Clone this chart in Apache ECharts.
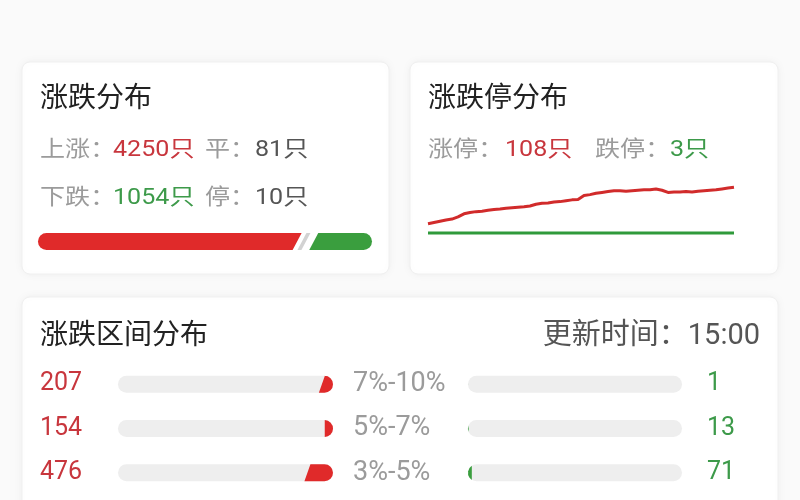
<!DOCTYPE html>
<html>
<head>
<meta charset="utf-8">
<script src="https://cdn.jsdelivr.net/npm/echarts/dist/echarts.min.js"></script>
<style>
  html, body { margin: 0; padding: 0; background: #fafafa; }
  #main { width: 800px; height: 500px; }
</style>
</head>
<body>
<div id="main"></div>
<script type="text/javascript">
// 涨跌分布
var upCount = 4250;
var flatCount = 81;
var downCount = 1054;
var haltCount = 10;

// 涨跌停分布
var limitUpCount = 108;
var limitDownCount = 3;
var limitUpLine = [24, 27, 30, 33, 35, 40, 47, 50, 52, 53, 55, 57, 58, 60, 61, 62, 63, 65, 69, 71,
  72, 74, 75, 77, 79, 80, 89, 91, 94, 96, 98, 100, 100, 99, 100, 101, 102, 102, 104, 101,
  96, 97, 97, 98, 97, 99, 100, 101, 102, 104, 106, 108];
var limitDownLine = [3, 3, 3, 3, 3, 3, 3, 3, 3, 3, 3, 3, 3, 3, 3, 3, 3, 3, 3, 3,
  3, 3, 3, 3, 3, 3, 3, 3, 3, 3, 3, 3, 3, 3, 3, 3, 3, 3, 3, 3,
  3, 3, 3, 3, 3, 3, 3, 3, 3, 3, 3, 3];

// 涨跌区间分布
var ranges = ['7%-10%', '5%-7%', '3%-5%'];
var riseCounts = [207, 154, 476];
var fallCounts = [1, 13, 71];
var updateTime = '15:00';

var FONT = "Roboto, 'Noto Sans CJK SC', sans-serif";
var RED_TXT = '#c8363d', GREEN_TXT = '#3d9a4a', GRAY_TXT = '#9b9b9b';
var RED = '#e02a2a', GREEN = '#3a9e3e';

var myChart = echarts.init(document.getElementById('main'));

function txt(x, y, text, color, size, extra) {
    var el = {
        type: 'text', x: x, y: y, z: 10,
        style: { text: text, fill: color, fontSize: size, fontFamily: FONT, verticalAlign: 'middle', align: 'left' }
    };
    if (extra) {
        for (var k in extra) el[k] = extra[k];
    }
    return el;
}
function card(x, y, w, h) {
    return {
        type: 'rect', z: 0,
        shape: { x: x, y: y, width: w, height: h, r: 8 },
        style: { fill: '#ffffff', stroke: '#f0f0f0', lineWidth: 1, shadowBlur: 10, shadowColor: 'rgba(0,0,0,0.05)' }
    };
}
var wide = { scaleX: 1.14 };

// 顶部比例条：红 / 灰 / 绿
var splitData = [
    [0, upCount, 0],
    [upCount, upCount + flatCount + haltCount, 1],
    [upCount + flatCount + haltCount, upCount + flatCount + haltCount + downCount, 2]
];
function renderSplit(params, api) {
    var p0 = api.coord([api.value(0), 0]);
    var p1 = api.coord([api.value(1), 0]);
    var kind = api.value(2);
    var h = 17, r = h / 2, s = 4.5, g = 4;
    var top = p0[1] - r, bot = p0[1] + r;
    var x0 = p0[0], x1 = p1[0], d, color;
    if (kind === 0) {
        var e = x1 - g;
        d = 'M' + (x0 + r) + ' ' + top + ' L' + (e + s) + ' ' + top + ' L' + (e - s) + ' ' + bot +
            ' L' + (x0 + r) + ' ' + bot + ' A' + r + ' ' + r + ' 0 0 1 ' + (x0 + r) + ' ' + top + ' Z';
        color = RED;
    } else if (kind === 1) {
        var m = (x0 + x1) / 2, w = 2;
        d = 'M' + (m - w + s) + ' ' + top + ' L' + (m + w + s) + ' ' + top + ' L' + (m + w - s) + ' ' + bot +
            ' L' + (m - w - s) + ' ' + bot + ' Z';
        color = '#d2d2d2';
    } else {
        var b = x0 + g + 3;
        d = 'M' + (b + s) + ' ' + top + ' L' + (x1 - r) + ' ' + top + ' A' + r + ' ' + r + ' 0 0 1 ' + (x1 - r) + ' ' + bot +
            ' L' + (b - s) + ' ' + bot + ' Z';
        color = GREEN;
    }
    return { type: 'path', shape: { pathData: d }, style: { fill: color } };
}

// 区间条：底轨 + 填充
function makeRangeRender(side) {
    return function (params, api) {
        var cs = params.coordSys;
        var c = api.coord([api.value(0), api.value(1)]);
        var h = 17, r = h / 2, s = 3;
        var cy = c[1], top = cy - r, bot = cy + r;
        var left = cs.x, right = cs.x + cs.width;
        var w, d, dy;
        if (side === 'rise') {
            w = right - c[0];
            if (w < r) {
                dy = Math.sqrt(r * r - (r - w) * (r - w));
                d = 'M' + (right - w) + ' ' + (cy - dy) + ' A' + r + ' ' + r + ' 0 0 1 ' + (right - w) + ' ' + (cy + dy) + ' Z';
            } else {
                d = 'M' + (c[0] + s) + ' ' + top + ' L' + (right - r) + ' ' + top + ' A' + r + ' ' + r + ' 0 0 1 ' +
                    (right - r) + ' ' + bot + ' L' + (c[0] - s) + ' ' + bot + ' Z';
            }
        } else {
            w = c[0] - left;
            if (w < r) {
                dy = Math.sqrt(r * r - (r - w) * (r - w));
                d = 'M' + (left + w) + ' ' + (cy - dy) + ' A' + r + ' ' + r + ' 0 0 0 ' + (left + w) + ' ' + (cy + dy) + ' Z';
            } else {
                d = 'M' + (left + r) + ' ' + top + ' L' + (c[0] + s) + ' ' + top + ' L' + (c[0] - s) + ' ' + bot +
                    ' L' + (left + r) + ' ' + bot + ' A' + r + ' ' + r + ' 0 0 1 ' + (left + r) + ' ' + top + ' Z';
            }
        }
        return {
            type: 'group',
            children: [
                { type: 'rect', shape: { x: left, y: top, width: cs.width, height: h, r: r }, style: { fill: '#eeeeee' } },
                { type: 'path', shape: { pathData: d }, style: { fill: side === 'rise' ? RED : GREEN } }
            ]
        };
    };
}

var rangeMax = 4000;
var total = upCount + flatCount + haltCount + downCount;

myChart.setOption({
    animation: false,
    backgroundColor: '#fafafa',
    graphic: [
        card(22, 62, 367, 212),
        card(410, 62, 368, 212),
        card(22, 297, 756, 240),
        txt(40, 100, '涨跌分布', '#222', 28),
        txt(40, 150, '上涨：', GRAY_TXT, 22, wide),
        txt(113, 150, upCount + '只', RED_TXT, 22, wide),
        txt(205, 150, '平：', GRAY_TXT, 22, wide),
        txt(255, 150, flatCount + '只', '#555', 22, wide),
        txt(40, 198, '下跌：', GRAY_TXT, 22, wide),
        txt(113, 198, downCount + '只', GREEN_TXT, 22, wide),
        txt(205, 198, '停：', GRAY_TXT, 22, wide),
        txt(255, 198, haltCount + '只', '#555', 22, wide),
        txt(428, 100, '涨跌停分布', '#222', 28),
        txt(428, 150, '涨停：', GRAY_TXT, 22, wide),
        txt(505, 150, limitUpCount + '只', RED_TXT, 22, wide),
        txt(595, 150, '跌停：', GRAY_TXT, 22, wide),
        txt(670, 150, limitDownCount + '只', GREEN_TXT, 22, wide),
        txt(40, 337, '涨跌区间分布', '#222', 28),
        {
            type: 'text', x: 760, y: 337, z: 10,
            style: { text: '更新时间：' + updateTime, fill: '#555', fontSize: 29, fontFamily: FONT, verticalAlign: 'middle', align: 'right' }
        }
    ],
    grid: [
        { left: 38, right: 428, top: 233, height: 17 },
        { left: 428, right: 66, top: 182, height: 52.3 },
        { left: 118, right: 467, top: 362, height: 133 },
        { left: 468, right: 118, top: 362, height: 133 }
    ],
    xAxis: [
        { gridIndex: 0, type: 'value', min: 0, max: total, show: false },
        { gridIndex: 1, type: 'category', boundaryGap: false, data: limitUpLine.map(function (v, i) { return i; }), show: false },
        { gridIndex: 2, type: 'value', min: 0, max: rangeMax, inverse: true, show: false },
        { gridIndex: 3, type: 'value', min: 0, max: rangeMax, show: false }
    ],
    yAxis: [
        { gridIndex: 0, type: 'category', data: ['ratio'], show: false },
        { gridIndex: 1, type: 'value', min: 0, max: 120, show: false },
        {
            gridIndex: 2, type: 'category', data: ranges, inverse: true, position: 'left',
            axisLine: { show: false }, axisTick: { show: false },
            axisLabel: {
                margin: 78, align: 'left', color: RED_TXT, fontSize: 25, fontFamily: FONT,
                formatter: function (v, i) { return riseCounts[i]; }
            }
        },
        {
            gridIndex: 2, type: 'category', data: ranges, inverse: true, position: 'right',
            axisLine: { show: false }, axisTick: { show: false },
            axisLabel: { margin: 20, align: 'left', color: GRAY_TXT, fontSize: 27, fontFamily: FONT }
        },
        { gridIndex: 3, type: 'category', data: ranges, inverse: true, position: 'left', show: false },
        {
            gridIndex: 3, type: 'category', data: ranges, inverse: true, position: 'right',
            axisLine: { show: false }, axisTick: { show: false },
            axisLabel: {
                margin: 25, align: 'left', color: GREEN_TXT, fontSize: 25, fontFamily: FONT,
                formatter: function (v, i) { return fallCounts[i]; }
            }
        }
    ],
    series: [
        {
            type: 'custom', xAxisIndex: 0, yAxisIndex: 0, silent: true,
            renderItem: renderSplit, data: splitData
        },
        {
            name: '涨停', type: 'line', xAxisIndex: 1, yAxisIndex: 1, silent: true,
            symbol: 'none', data: limitUpLine,
            lineStyle: { color: '#d12b2b', width: 3 }
        },
        {
            name: '跌停', type: 'line', xAxisIndex: 1, yAxisIndex: 1, silent: true,
            symbol: 'none', data: limitDownLine,
            lineStyle: { color: '#2f9a3b', width: 3 }
        },
        {
            type: 'custom', xAxisIndex: 2, yAxisIndex: 2, silent: true,
            renderItem: makeRangeRender('rise'),
            data: riseCounts.map(function (v, i) { return [v, i]; })
        },
        {
            type: 'custom', xAxisIndex: 3, yAxisIndex: 4, silent: true,
            renderItem: makeRangeRender('fall'),
            data: fallCounts.map(function (v, i) { return [v, i]; })
        }
    ]
});
</script>
</body>
</html>
